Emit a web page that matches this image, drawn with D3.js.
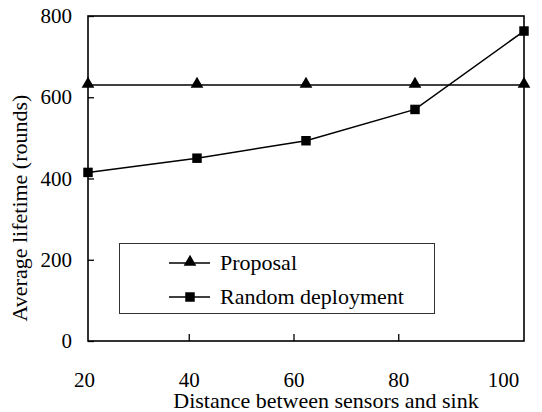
<!DOCTYPE html>
<html>
<head>
<meta charset="utf-8">
<script src="https://cdn.jsdelivr.net/npm/d3@7"></script>
</head>
<body style="margin:0">
<svg id="chart" width="542" height="412"></svg>
<script>
//Chart values
const distances = [20, 40, 60, 80, 100];
const proposal = [630, 630, 630, 630, 630];
const randomDeployment = [415, 450, 493, 570, 763];
const yTicks = [0, 200, 400, 600, 800];
const xTicks = [20, 40, 60, 80, 100];
const seriesNames = ['Proposal', 'Random deployment'];

const fontName = '"Liberation Serif"';

//Layout (plot area edges)
const plotLeft = 88, plotRight = 524, plotTop = 16, plotBottom = 341;

var svg = d3.select('#chart');

//Data scale and a slightly shifted scale for the tick labels (like the original)
var x = d3.scaleLinear().domain([20, 100]).range([plotLeft, plotRight]);
var xt = d3.scaleLinear().domain([20, 100]).range([84, 503]);
var y = d3.scaleLinear().domain([0, 800]).range([plotBottom, plotTop]);

//Y axis, ticks inside
var yAxis = svg.append('g')
    .attr('transform', 'translate(' + plotLeft + ',0)')
    .call(d3.axisLeft(y).tickValues(yTicks).tickSizeInner(-6).tickSizeOuter(0).tickPadding(16));
yAxis.attr('font-family', fontName).attr('font-size', 21);
yAxis.select('.domain').remove();
yAxis.selectAll('line').attr('stroke', '#000').attr('stroke-width', 1.3);
yAxis.selectAll('text').attr('fill', '#000');

//X axis, ticks inside
var xAxis = svg.append('g')
    .attr('transform', 'translate(0,' + plotBottom + ')')
    .call(d3.axisBottom(xt).tickValues(xTicks).tickSizeInner(-7).tickSizeOuter(0).tickPadding(31));
xAxis.attr('font-family', fontName).attr('font-size', 21);
xAxis.select('.domain').remove();
xAxis.selectAll('line')
    .attr('stroke', '#000').attr('stroke-width', 1.3)
    .attr('display', function(d) { return (d == 20 || d == 100) ? 'none' : null; });
xAxis.selectAll('text').attr('fill', '#000');

//Plot frame
svg.append('rect')
    .attr('x', plotLeft).attr('y', plotTop)
    .attr('width', plotRight - plotLeft).attr('height', plotBottom - plotTop)
    .attr('fill', 'none')
    .attr('stroke', '#000')
    .attr('stroke-width', 1.6);

//Axis titles
svg.append('text')
    .attr('x', 326).attr('y', 408)
    .attr('text-anchor', 'middle')
    .attr('font-family', fontName)
    .attr('font-size', 22)
    .text('Distance between sensors and sink');

svg.append('text')
    .attr('transform', 'translate(27,208)rotate(-90)')
    .attr('text-anchor', 'middle')
    .attr('font-family', fontName)
    .attr('font-size', 22)
    .text('Average lifetime (rounds)');

//Lines
var line = d3.line()
    .x(function(d, i) { return x(distances[i]); })
    .y(function(d) { return y(d); });

svg.append('path')
    .datum(proposal)
    .attr('fill', 'none').attr('stroke', '#000').attr('stroke-width', 1.5)
    .attr('d', line);

svg.append('path')
    .datum(randomDeployment)
    .attr('fill', 'none').attr('stroke', '#000').attr('stroke-width', 1.5)
    .attr('d', line);

var tri = d3.symbol().type(d3.symbolTriangle).size(70);
var sq = d3.symbol().type(d3.symbolSquare).size(90);

svg.append('g').selectAll('path')
    .data(proposal)
    .enter().append('path')
    .attr('d', tri)
    .attr('transform', function(d, i) { return 'translate(' + x(distances[i]) + ',' + (y(d) - 1) + ')'; })
    .attr('fill', '#000');

svg.append('g').selectAll('path')
    .data(randomDeployment)
    .enter().append('path')
    .attr('d', sq)
    .attr('transform', function(d, i) { return 'translate(' + x(distances[i]) + ',' + y(d) + ')'; })
    .attr('fill', '#000');

//Legend
var legend = svg.append('g');
legend.append('rect')
    .attr('x', 119.5).attr('y', 243.5)
    .attr('width', 315).attr('height', 70)
    .attr('fill', '#fff')
    .attr('stroke', '#333')
    .attr('stroke-width', 1);

var rows = legend.selectAll('g.row')
    .data(seriesNames)
    .enter().append('g')
    .attr('class', 'row')
    .attr('transform', function(d, i) { return 'translate(0,' + (263 + i * 34) + ')'; });

rows.append('line')
    .attr('x1', 169).attr('x2', 210)
    .attr('stroke', '#000').attr('stroke-width', 1.5);

rows.append('path')
    .attr('d', function(d, i) { return i == 0 ? tri() : sq(); })
    .attr('transform', function(d, i) { return 'translate(190,' + (i == 0 ? -1 : 0) + ')'; })
    .attr('fill', '#000');

rows.append('text')
    .attr('x', 220).attr('y', 7)
    .attr('font-family', fontName)
    .attr('font-size', 22)
    .text(function(d) { return d; });
</script>
</body>
</html>
